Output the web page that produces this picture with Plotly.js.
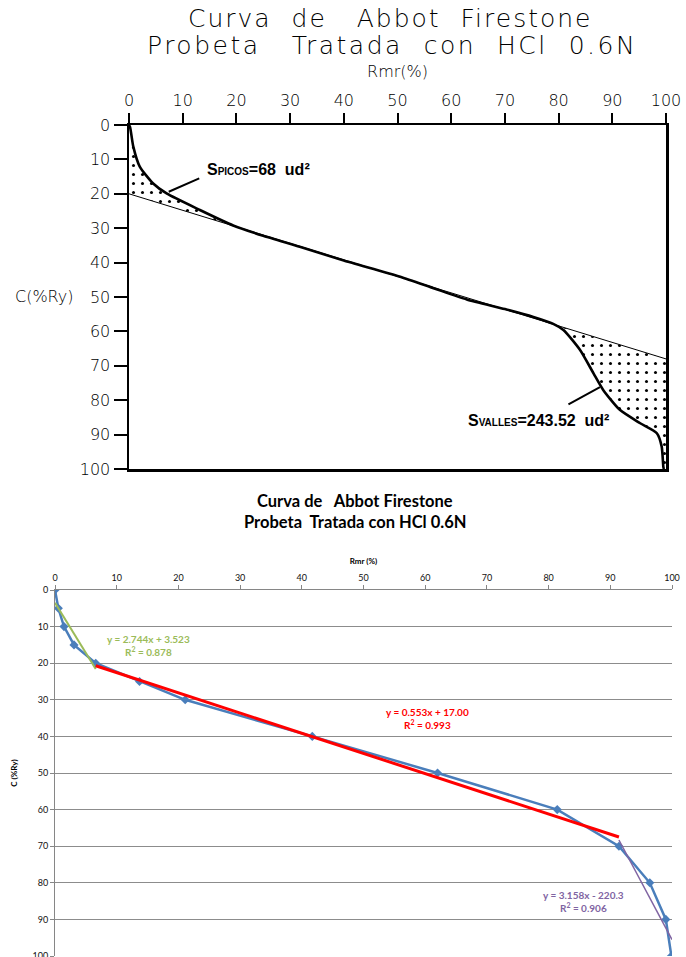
<!DOCTYPE html>
<html><head><meta charset="utf-8">
<script src="https://cdn.plot.ly/plotly-3.0.1.min.js"></script>
<style>html,body{margin:0;padding:0;background:#fff;}#chart{width:686px;height:957px;}</style>
</head><body><div id="chart"></div>
<script>
// ---------- Top chart (CAD drawing) ----------
const axisTicks = [0,10,20,30,40,50,60,70,80,90,100];
const curveX = [0, 0.2, 0.8, 2.0, 4.5, 7.0, 13.2, 19.4, 25, 31.8, 40, 50.5, 57, 62.9, 70, 75.3, 79, 80.9, 84, 86.5, 88.3, 91.4, 95.2, 98.3, 99.2, 99.5, 99.6];
const curveY = [0, 0.6, 6.3, 12.1, 17.0, 19.9, 24.7, 29.2, 32.2, 35.4, 39.4, 44.1, 47.6, 50.7, 53.5, 55.8, 57.8, 59.6, 65.4, 72.2, 77.0, 82.8, 86.7, 89.6, 93.5, 99.3, 100];
const refLineX = [0, 100];
const refLineY = [20, 68];
const peaksEnd = 20;     // Rmr where the peak area closes
const valleysStart = 80; // Rmr where the valley area opens

// ---------- Bottom chart (spreadsheet) ----------
const blueX = [0, 0.54, 1.46, 3.08, 6.6, 13.7, 21.1, 41.7, 62.0, 81.4, 91.4, 96.4, 99.0, 99.9];
const blueY = [0, 5, 10, 15, 20, 25, 30, 40, 50, 60, 70, 80, 90, 100];
const greenX = [0, 6.6];
const greenY = [3.5, 21.6];
const redX = [6.6, 91.4];
const redY = [20.7, 67.5];
const purpleX = [91.4, 100];
const purpleY = [68.3, 95.5];
const greenLabel = 'y = 2.744x + 3.523<br>R<sup>2</sup> = 0.878';
const redLabel = 'y = 0.553x + 17.00<br>R<sup>2</sup> = 0.993';
const purpleLabel = 'y = 3.158x - 220.3<br>R<sup>2</sup> = 0.906';

function lineAt(x){
  const t = (x - refLineX[0])/(refLineX[1]-refLineX[0]);
  return refLineY[0] + t*(refLineY[1]-refLineY[0]);
}
function curveAt(x){
  for(let i=0;i<curveX.length-1;i++){
    if(x>=curveX[i] && x<=curveX[i+1]){
      const t=(x-curveX[i])/(curveX[i+1]-curveX[i]);
      return curveY[i]+t*(curveY[i+1]-curveY[i]);
    }
  }
  return curveY[curveY.length-1];
}
// peak polygon: curve from 0..peaksEnd then back along the reference line
const peaksX=[], peaksY=[];
curveX.forEach((x,i)=>{ if(x<peaksEnd){peaksX.push(x);peaksY.push(curveY[i]);} });
peaksX.push(peaksEnd); peaksY.push(curveAt(peaksEnd));
peaksX.push(peaksEnd); peaksY.push(lineAt(peaksEnd));
peaksX.push(0); peaksY.push(lineAt(0));
// valley polygon
const valX=[valleysStart,100,100], valY=[lineAt(valleysStart),lineAt(100),100];
for(let i=curveX.length-1;i>=0;i--){ if(curveX[i]>valleysStart){valX.push(curveX[i]);valY.push(curveY[i]);} }
valX.push(valleysStart); valY.push(curveAt(valleysStart));

const cad = {family:'DejaVu Sans', size:16, color:'#000', weight:200};
const pat = {shape:'.', fgcolor:'#000', bgcolor:'rgba(0,0,0,0)', size:9, solidity:0.09};

const traces = [
  {x:peaksX, y:peaksY, xaxis:'x', yaxis:'y', mode:'lines', line:{width:0}, fill:'toself', fillcolor:'rgba(0,0,0,0)', fillpattern:pat, hoverinfo:'skip'},
  {x:valX, y:valY, xaxis:'x', yaxis:'y', mode:'lines', line:{width:0}, fill:'toself', fillcolor:'rgba(0,0,0,0)', fillpattern:pat, hoverinfo:'skip'},
  {x:refLineX, y:refLineY, xaxis:'x', yaxis:'y', mode:'lines', line:{color:'#000', width:1}},
  {x:curveX, y:curveY, xaxis:'x', yaxis:'y', mode:'lines', line:{color:'#000', width:2.6, shape:'spline', smoothing:0.6}},
  {x:blueX, y:blueY, xaxis:'x2', yaxis:'y2', mode:'lines+markers', line:{color:'#4a7ebb', width:2.5}, marker:{symbol:'diamond', size:7, color:'#4a7ebb'}},
  {x:greenX, y:greenY, xaxis:'x2', yaxis:'y2', mode:'lines', line:{color:'#9bbb59', width:2}},
  {x:redX, y:redY, xaxis:'x2', yaxis:'y2', mode:'lines', line:{color:'#ff0000', width:3}},
  {x:purpleX, y:purpleY, xaxis:'x2', yaxis:'y2', mode:'lines', line:{color:'#8064a2', width:1.5}}
];

const lato = 'Lato, "Open Sans", sans-serif';
const A = {xref:'paper', yref:'paper', showarrow:false, xanchor:'center', yanchor:'middle'};
const layout = {
  width:686, height:957, margin:{l:0,r:0,t:0,b:0},
  paper_bgcolor:'#fff', plot_bgcolor:'#fff', showlegend:false,
  xaxis:{domain:[129/686, 666/686], anchor:'y', side:'top', range:[0,100], tickmode:'array', tickvals:axisTicks,
    ticks:'outside', ticklen:10, tickwidth:2, tickcolor:'#000', showline:true, linewidth:2.5, linecolor:'#000', mirror:true,
    showgrid:false, zeroline:false, tickfont:cad, title:{text:'Rmr(%)', font:cad, standoff:10}},
  yaxis:{domain:[1-469/957, 1-125/957], anchor:'x', range:[100,0], tickmode:'array', tickvals:axisTicks,
    ticks:'outside', ticklen:13, tickwidth:2, tickcolor:'#000', showline:true, linewidth:2.5, linecolor:'#000', mirror:true,
    showgrid:false, zeroline:false, tickfont:cad},
  xaxis2:{domain:[55/686, 672/686], anchor:'y2', side:'top', range:[0,100], tickmode:'array', tickvals:axisTicks,
    ticks:'outside', ticklen:4, tickcolor:'#868686', showline:true, linewidth:1, linecolor:'#868686',
    showgrid:false, zeroline:false, tickfont:{family:lato, size:9, color:'#111'}, ticklabeloverflow:'allow',
    title:{text:'Rmr (%)', font:{family:lato, size:8, color:'#000', weight:'bold'}, standoff:6}},
  yaxis2:{domain:[1-956/957, 1-590/957], anchor:'x2', range:[100,0], tickmode:'array', tickvals:axisTicks,
    ticks:'outside', ticklen:4, tickcolor:'#868686', showline:true, linewidth:1, linecolor:'#868686',
    showgrid:true, gridcolor:'#8c8c8c', gridwidth:1, zeroline:false, tickfont:{family:lato, size:9, color:'#111'}, ticklabeloverflow:'allow',
    title:{text:'C (%Ry)', font:{family:lato, size:8, color:'#000', weight:'bold'}, standoff:13}},
  annotations:[
    Object.assign({}, A, {x:390/686, y:1-19/957, text:'<span style="letter-spacing:2px">Curva&nbsp; de&nbsp;&nbsp; Abbot&nbsp; Firestone</span>', font:{family:'DejaVu Sans', size:25, color:'#000', weight:200}}),
    Object.assign({}, A, {x:392/686, y:1-45/957, text:'<span style="letter-spacing:2.5px">Probeta&nbsp;&nbsp; Tratada&nbsp; con&nbsp; HCl&nbsp; 0.6N</span>', font:{family:'DejaVu Sans', size:25, color:'#000', weight:200}}),
    Object.assign({}, A, {x:44/686, y:1-296/957, text:'C(%Ry)', font:cad}),
    Object.assign({}, A, {x:258/686, y:1-170/957, text:'S<span style="font-size:10px">PICOS</span>=68&nbsp; ud²', font:{family:'Liberation Sans', size:16, color:'#000', weight:'bold'}}),
    Object.assign({}, A, {x:538/686, y:1-420/957, text:'S<span style="font-size:10px">VALLES</span>=243.52&nbsp; ud²', font:{family:'Liberation Sans', size:16, color:'#000', weight:'bold'}}),
    {xref:'x', yref:'y', x:7.4, y:19.4, text:'', showarrow:true, arrowhead:0, arrowwidth:2, arrowcolor:'#000', ax:32, ay:-14},
    {xref:'x', yref:'y', x:87.7, y:76.2, text:'', showarrow:true, arrowhead:0, arrowwidth:2, arrowcolor:'#000', ax:-33, ay:18},
    Object.assign({}, A, {x:355/686, y:1-501/957, text:'Curva de&nbsp;&nbsp; Abbot Firestone', font:{family:lato, size:16.5, color:'#000', weight:'bold'}}),
    Object.assign({}, A, {x:355/686, y:1-522/957, text:'Probeta&nbsp; Tratada con HCl 0.6N', font:{family:lato, size:16.5, color:'#000', weight:'bold'}}),
    Object.assign({}, A, {xref:'x2', yref:'y2', x:15.1, y:15.1, text:greenLabel, font:{family:lato, size:10, color:'#9bbb59', weight:'bold'}}),
    Object.assign({}, A, {xref:'x2', yref:'y2', x:60.3, y:35.2, text:redLabel, font:{family:lato, size:10, color:'#ff0000', weight:'bold'}}),
    Object.assign({}, A, {xref:'x2', yref:'y2', x:85.6, y:85.1, text:purpleLabel, font:{family:lato, size:10, color:'#8064a2', weight:'bold'}})
  ]
};
Plotly.newPlot('chart', traces, layout, {displayModeBar:false, staticPlot:true});
</script></body></html>
